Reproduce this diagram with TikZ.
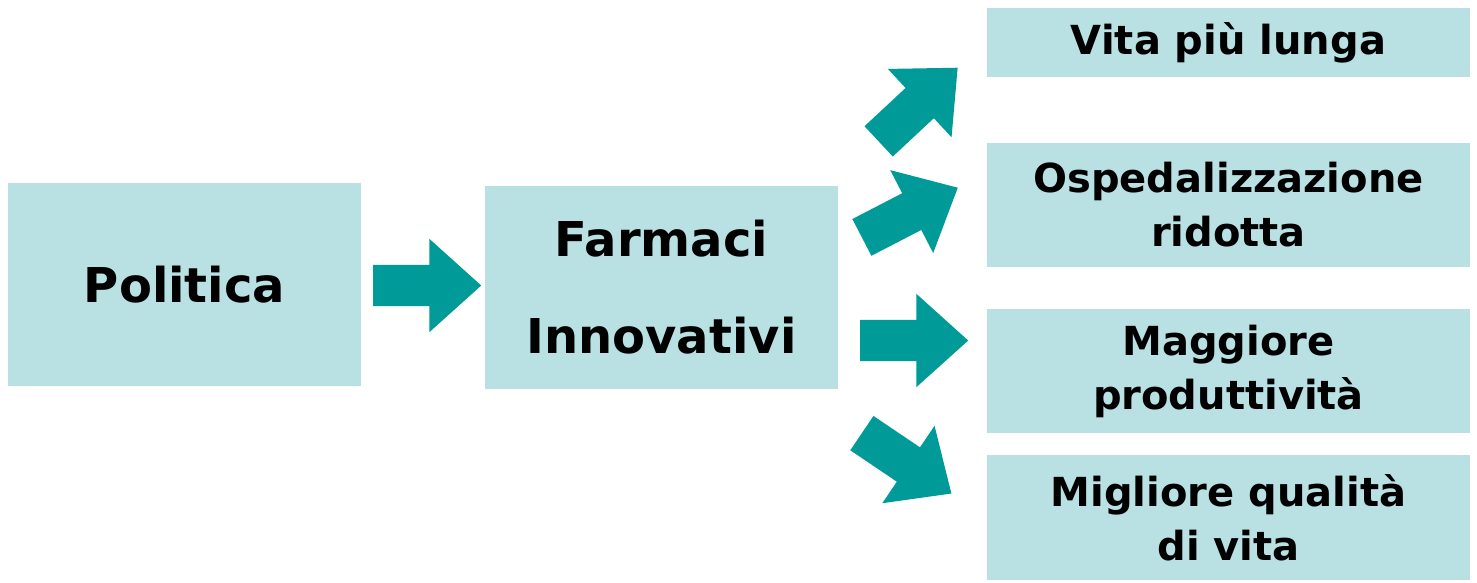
\documentclass[tikz,border=0pt]{standalone}
\usepackage{fontspec}
\setmainfont{DejaVu Sans}
\usepackage{tikz}
\usetikzlibrary{shapes.arrows}
\definecolor{boxfill}{HTML}{B9E0E3}
\definecolor{arrowfill}{HTML}{009A98}

\begin{document}
\begin{tikzpicture}[x=1pt,y=-1pt,
			box/.style={shape=rectangle,fill=boxfill,inner sep=0,align=center,font=\bfseries},
			big/.style={box,minimum width=353pt,minimum height=203pt,font=\bfseries\fontsize{48}{97}\selectfont},
			small/.style={box,minimum width=483pt,font=\bfseries\fontsize{40}{54}\selectfont},
			arr/.style={single arrow,fill=arrowfill,inner xsep=0,inner ysep=20.5pt,minimum height=108pt,
				single arrow head extend=26pt,single arrow tip angle=84,anchor=tail}]
			\useasboundingbox (0,0) rectangle (1477,582);
			\node[big] (pol) at (184.5,284.5) {Politica};
			\node[big] (farm) at (661.5,287.5) {Farmaci\\Innovativi};
			\node[small,minimum height=69pt] (vita) at (1228.5,42.5) {Vita più lunga};
			\node[small,minimum height=124pt] (osp) at (1228.5,205) {Ospedalizzazione\\ridotta};
			\node[small,minimum height=124pt] (magg) at (1228.5,371) {Maggiore\\produttività};
			\node[small,minimum height=125pt] (migl) at (1228.5,517.5) {Migliore qualità\\di vita};
			\node[arr] (a0) at (373,285.5) {};
			\node[arr,rotate=43] (a1) at (878.5,141.5) {};
			\node[arr,rotate=27.4] (a2) at (861.7,237.5) {};
			\node[arr] (a3) at (860,340.5) {};
			\node[arr,rotate=-34] (a4) at (861.7,433) {};
		\end{tikzpicture}
\end{document}
